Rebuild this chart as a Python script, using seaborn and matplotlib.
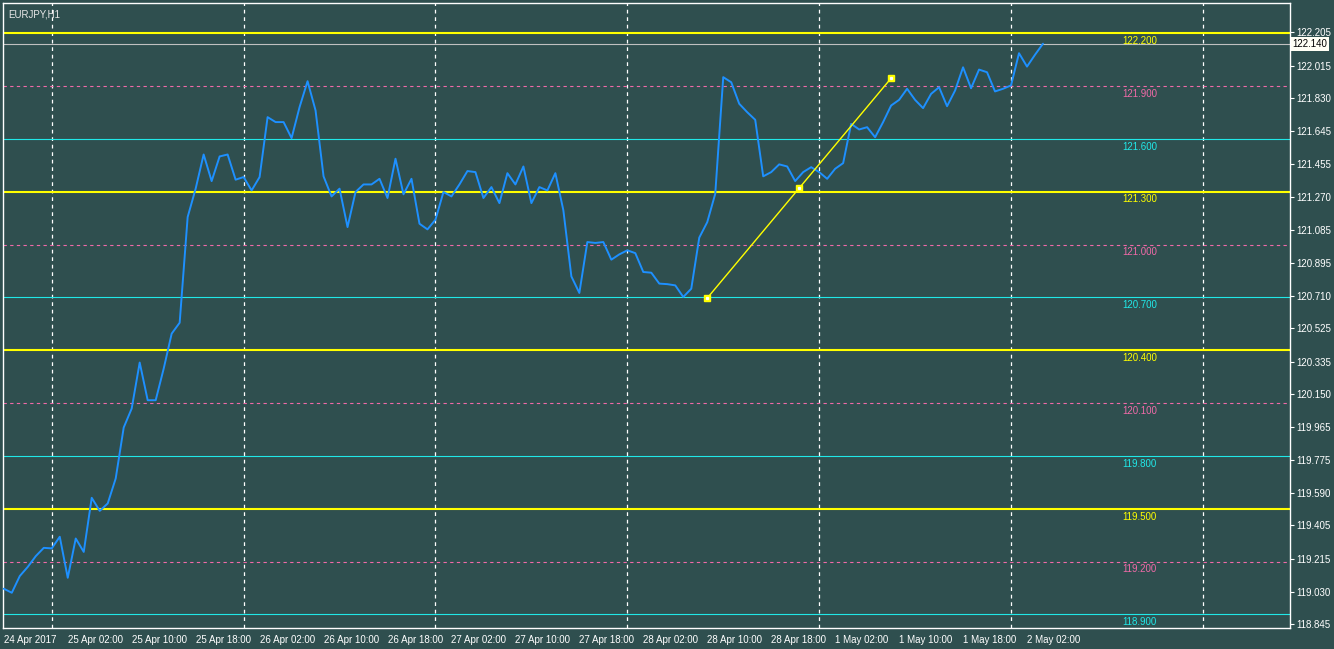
import numpy as np
import pandas as pd
import matplotlib
matplotlib.use("Agg")
import matplotlib.pyplot as plt
import matplotlib.transforms as mtransforms
import seaborn as sns

# EURJPY H1 closes, one per bar (bar 0 = 24 Apr 2017 18:00)
prices = [
    119.046, 119.023, 119.118, 119.170, 119.231, 119.278, 119.275, 119.341,
    119.108, 119.331, 119.255, 119.562, 119.488, 119.530, 119.672, 119.961,
    120.069, 120.330, 120.116, 120.116, 120.295, 120.494, 120.556, 121.156,
    121.317, 121.511, 121.360, 121.500, 121.511, 121.368, 121.383, 121.307,
    121.383, 121.723, 121.695, 121.695, 121.604, 121.780, 121.927, 121.761,
    121.387, 121.273, 121.317, 121.099, 121.298, 121.341, 121.341, 121.373,
    121.264, 121.487, 121.285, 121.373, 121.118, 121.086, 121.141, 121.298,
    121.273, 121.341, 121.417, 121.411, 121.264, 121.326, 121.235, 121.405,
    121.341, 121.443, 121.235, 121.326, 121.307, 121.405, 121.194, 120.819,
    120.725, 121.014, 121.009, 121.014, 120.914, 120.944, 120.967, 120.951,
    120.844, 120.840, 120.778, 120.775, 120.768, 120.702, 120.749, 121.039,
    121.127, 121.288, 121.950, 121.921, 121.799, 121.751, 121.708, 121.387,
    121.411, 121.455, 121.443, 121.360, 121.411, 121.439, 121.411, 121.373,
    121.430, 121.462, 121.685, 121.653, 121.666, 121.609, 121.695, 121.789,
    121.821, 121.884, 121.821, 121.774, 121.855, 121.893, 121.785, 121.874,
    122.006, 121.887, 121.993, 121.978, 121.869, 121.884, 121.903, 122.086,
    122.010, 122.077, 122.140,
]
bars = list(range(len(prices)))

time_ticks = list(range(0, 129, 8))
time_labels = ["24 Apr 2017", "25 Apr 02:00", "25 Apr 10:00", "25 Apr 18:00",
               "26 Apr 02:00", "26 Apr 10:00", "26 Apr 18:00", "27 Apr 02:00",
               "27 Apr 10:00", "27 Apr 18:00", "28 Apr 02:00", "28 Apr 10:00",
               "28 Apr 18:00", "1 May 02:00", "1 May 10:00", "1 May 18:00",
               "2 May 02:00"]
day_lines = [6, 30, 54, 78, 102, 126, 150]

price_ticks = [122.205, 122.015, 121.830, 121.645, 121.455, 121.270, 121.085,
               120.895, 120.710, 120.525, 120.335, 120.150, 119.965, 119.775,
               119.590, 119.405, 119.215, 119.030, 118.845]

yellow_levels = [122.200, 121.300, 120.400, 119.500]
pink_levels = [121.900, 121.000, 120.100, 119.200]
cyan_levels = [121.600, 120.700, 119.800, 118.900]
bid = 122.140

# trend line: start, middle, end (bar index, price)
trend_x = [88, 99.5, 111]
trend_y = [120.696, 121.320, 121.944]

bg = "#2F4F4F"
fg = "white"
c_yellow = "#FFFF00"
c_pink = "#F06AA8"
c_cyan = "#20E8E8"
c_blue = "#1E90FF"
fs = 7

sns.set_style("dark", {"axes.facecolor": bg, "figure.facecolor": bg,
                       "axes.edgecolor": fg})
plt.rcParams["font.family"] = ["Liberation Sans", "DejaVu Sans"]

fig = plt.figure(figsize=(13.34, 6.49), dpi=100)
ax = fig.add_axes([3 / 1334, 21 / 649, 1287 / 1334, 625 / 649])
ax.set_facecolor(bg)

# grid: vertical day separators
for d in day_lines:
    ax.axvline(d, color=fg, lw=0.9, ls=(0, (3, 3)), zorder=1)

# horizontal levels
for lv in yellow_levels:
    ax.axhline(lv, color=c_yellow, lw=1.5, zorder=2)
for lv in pink_levels:
    ax.axhline(lv, color=c_pink, lw=0.8, ls=(0, (3, 3)), zorder=2)
for lv in cyan_levels:
    ax.axhline(lv, color=c_cyan, lw=0.8, zorder=2)
ax.axhline(bid, color="#C0C0C0", lw=0.8, zorder=2)

# level labels, under each line
for levels, col in [(yellow_levels, c_yellow), (pink_levels, c_pink), (cyan_levels, c_cyan)]:
    for lv in levels:
        ax.annotate(f"{lv:.3f}", (142.1, lv), xytext=(0, -2.0), textcoords="offset points",
                    ha="center", va="top", color=col, fontsize=fs, zorder=3)

df = pd.DataFrame({"bar": bars, "price": prices})
sns.lineplot(data=df, x="bar", y="price", ax=ax, color=c_blue, lw=1.4, zorder=4)

# trend line with anchor squares
ax.plot(trend_x[::2], trend_y[::2], color=c_yellow, lw=1.0, zorder=5)
ax.plot(trend_x, trend_y, ls="none", marker="s", ms=4.5, mfc=c_yellow, mec=c_yellow, zorder=6)
ax.plot(trend_x, trend_y, ls="none", marker="s", ms=1.3, mfc="white", mec="white", zorder=7)

ax.set_xlim(-0.1, 160.9)
ax.set_ylim(118.823, 122.371)

ax.set_xticks(time_ticks)
ax.set_xticklabels(time_labels, ha="left")
ax.yaxis.tick_right()
ax.set_yticks(price_ticks)
ax.set_yticklabels([f"{p:.3f}" for p in price_ticks])
ax.tick_params(axis="both", colors=fg, labelcolor=fg, labelsize=fs,
               length=3, width=0.8, direction="out", pad=1.5)
ax.tick_params(axis="x", pad=2.0)
ax.tick_params(axis="y", right=True, left=False)
ax.set_xlabel("")
ax.set_ylabel("")
ax.grid(False)
for sp in ax.spines.values():
    sp.set_color(fg)
    sp.set_linewidth(1.0)
    sp.set_visible(True)

# current bid box on the price scale
trans = mtransforms.blended_transform_factory(ax.transAxes, ax.transData)
ax.text(1.002, bid, f"{bid:.3f}", transform=trans, ha="left", va="center",
        fontsize=fs, color="black", zorder=10,
        bbox=dict(boxstyle="square,pad=0.2", fc="#FFFFF5", ec="none"), clip_on=False)

ax.text(0.004, 0.982, "EURJPY,H1", transform=ax.transAxes, ha="left", va="center",
        fontsize=fs, color="#E8E8E8")

fig.savefig("out.png", dpi=100, facecolor=bg)
